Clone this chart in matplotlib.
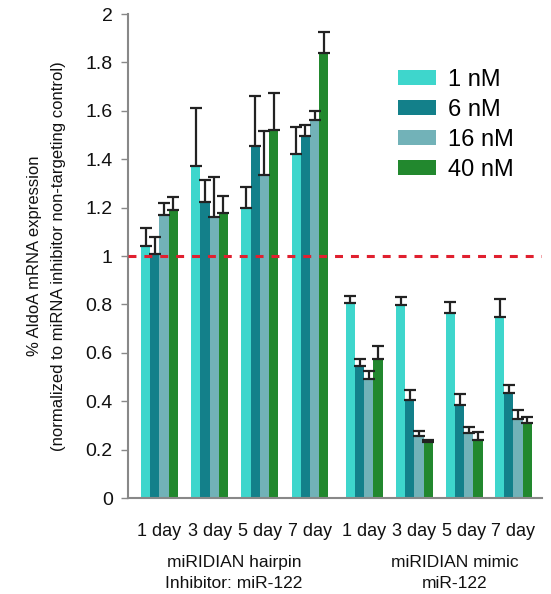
import matplotlib
matplotlib.use("Agg")
import matplotlib.pyplot as plt
import numpy as np
from matplotlib.patches import Patch

days = ["1 day", "3 day", "5 day", "7 day", "1 day", "3 day", "5 day", "7 day"]
series = ["1 nM", "6 nM", "16 nM", "40 nM"]
v_1nM = [1.04, 1.37, 1.20, 1.42, 0.805, 0.797, 0.764, 0.748]
v_6nM = [1.01, 1.225, 1.455, 1.495, 0.545, 0.405, 0.384, 0.434]
v_16nM = [1.17, 1.16, 1.335, 1.56, 0.492, 0.256, 0.269, 0.326]
v_40nM = [1.19, 1.178, 1.52, 1.84, 0.574, 0.231, 0.240, 0.310]
e_1nM = [0.075, 0.24, 0.087, 0.115, 0.031, 0.035, 0.046, 0.076]
e_6nM = [0.07, 0.088, 0.207, 0.048, 0.031, 0.043, 0.047, 0.034]
e_16nM = [0.05, 0.167, 0.183, 0.04, 0.031, 0.022, 0.026, 0.036]
e_40nM = [0.054, 0.071, 0.155, 0.085, 0.053, 0.01, 0.034, 0.023]
group_labels = ["miRIDIAN hairpin\nInhibitor: miR-122", "miRIDIAN mimic\nmiR-122"]
ref_value = 1.0

colors = ["#3ED6CC", "#13808A", "#72B2B8", "#22882E"]
values = [v_1nM, v_6nM, v_16nM, v_40nM]
errors = [e_1nM, e_6nM, e_16nM, e_40nM]
FONT = "Liberation Sans"

fig = plt.figure(figsize=(5.51, 5.94), dpi=100)
ax = fig.add_axes([0.2323, 0.1616, 0.7514, 0.8148])

centers = np.array([0, 1, 2, 3, 4.08, 5.08, 6.07, 7.05])
w = 0.183
for i, (vals, errs, c) in enumerate(zip(values, errors, colors)):
    xs = centers + (i - 1.5) * w
    ax.bar(xs, vals, width=w, color=c, edgecolor="none", zorder=2)
    ax.errorbar(xs, vals, yerr=[np.zeros(len(vals)), errs], fmt="none",
                ecolor="#222222", elinewidth=1.6, capsize=4.0, capthick=1.6, zorder=3)

ax.axhline(ref_value, color="#E0202F", lw=2.2, linestyle=(0, (2.6, 2.6)), zorder=4)

ax.set_xlim(-0.626, 7.62)
ax.set_ylim(0, 2)
ax.set_yticks(np.arange(0, 2.01, 0.2))
ax.set_yticklabels(["0", "0.2", "0.4", "0.6", "0.8", "1", "1.2", "1.4", "1.6", "1.8", "2"],
                   fontsize=14, family=FONT, color="#111111")
ax.tick_params(axis="y", length=5, color="#888888", width=1, pad=6)
ax.set_xticks(centers)
ax.set_xticklabels(days, fontsize=13, family=FONT, color="#111111")
ax.tick_params(axis="x", length=0, pad=18)
for s in ["top", "right"]:
    ax.spines[s].set_visible(False)
for s in ["left", "bottom"]:
    ax.spines[s].set_color("#888888")
    ax.spines[s].set_linewidth(1.5)

ax.set_ylabel("% AldoA mRNA expression\n(normalized to miRNA inhibitor non-targeting control)",
              fontsize=12, family=FONT, color="#111111", labelpad=14, linespacing=1.75)

fig.text(234 / 551, 1 - 573 / 594, group_labels[0], ha="center", va="center",
         fontsize=12.5, family=FONT, linespacing=1.55, color="#111111")
fig.text(455 / 551, 1 - 573 / 594, group_labels[1], ha="center", va="center",
         fontsize=12.5, family=FONT, linespacing=1.55, color="#111111")

handles = [Patch(facecolor=c, edgecolor="none") for c in colors]
leg = ax.legend(handles, series, loc="upper left", bbox_to_anchor=(0.607, 0.925), frameon=False,
                prop={"family": FONT, "size": 17}, handlelength=1.6, handleheight=0.6,
                labelspacing=0.33, handletextpad=0.5, borderpad=0.3)

fig.savefig("out.png", dpi=100)
